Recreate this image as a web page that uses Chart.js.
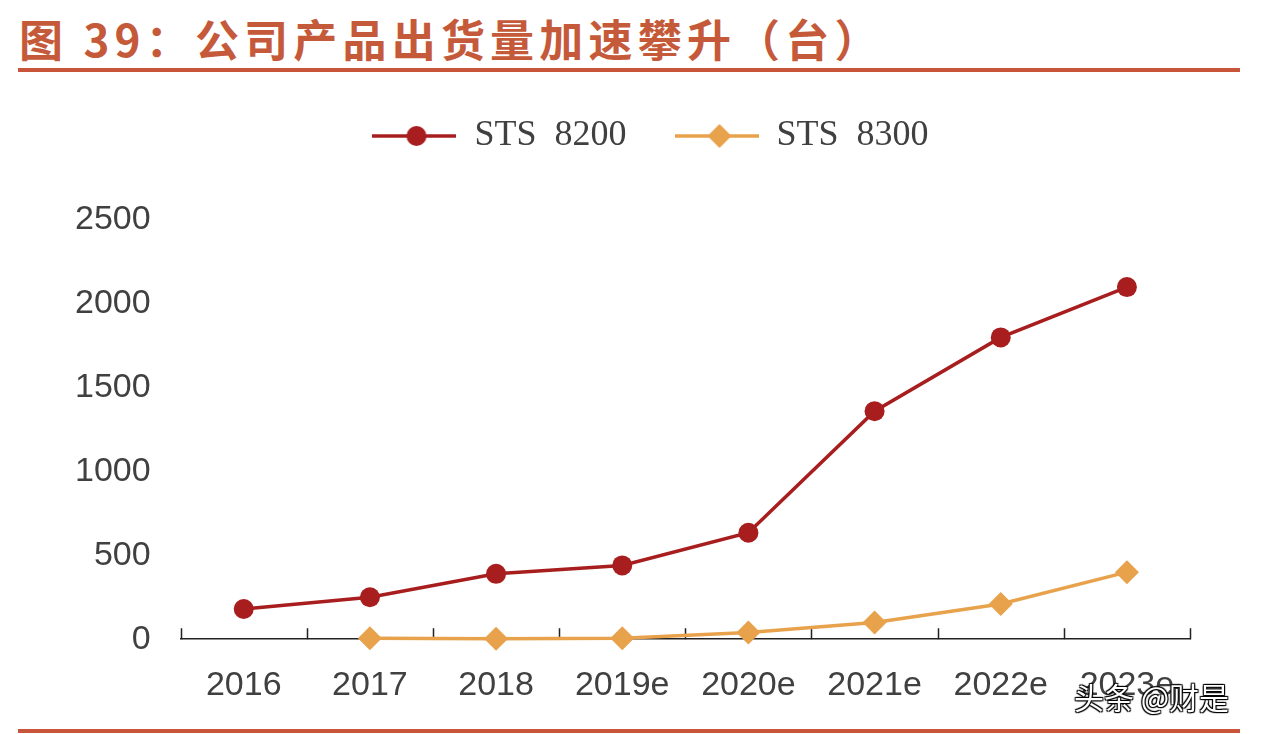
<!DOCTYPE html>
<html>
<head>
<meta charset="utf-8">
<script src="https://cdn.jsdelivr.net/npm/chart.js@4/dist/chart.umd.min.js"></script>
<style>
body{margin:0;background:#fff;width:1262px;height:734px;overflow:hidden;position:relative;}
#title{position:absolute;left:19px;top:6px;font-family:"Noto Sans CJK SC",sans-serif;font-weight:bold;font-size:44px;letter-spacing:5.2px;color:#C55A3A;white-space:nowrap;}
.rule{position:absolute;left:18px;width:1222px;height:4px;background:#C8553A;}
#wrap{position:absolute;left:0;top:0;width:1262px;height:734px;}
#wm{position:absolute;left:1074px;top:674px;font-family:"Noto Sans CJK SC",sans-serif;font-size:30px;color:#fff;
 text-shadow:0 0 1px #000,1px 1px 1px #000,-1px -1px 1px #000,1px -1px 1px #000,-1px 1px 1px #000;white-space:nowrap;}
</style>
</head>
<body>
<div id="title">图 39：公司产品出货量加速攀升（台）</div>
<div class="rule" style="top:68px"></div>
<div id="wrap"><canvas id="myChart" width="1262" height="734"></canvas></div>
<div class="rule" style="top:729px"></div>
<div id="wm">头条 @财是</div>
<script>
const years=["2016","2017","2018","2019e","2020e","2021e","2022e","2023e"];
const sts8200=[180,250,390,440,635,1360,1800,2100];
const sts8300=[null,5,2,5,40,100,210,400];
const yTicks=[0,500,1000,1500,2000,2500];

const red="#A81E1E";
const orange="#E8A24C";

// legend icon = short line with the marker in the middle
function legendIcon(color,style){
    var c=document.createElement("canvas");
    c.width=84;c.height=26;
    var g=c.getContext("2d");
    g.strokeStyle=color;g.lineWidth=3.5;
    g.beginPath();g.moveTo(0,13);g.lineTo(84,13);g.stroke();
    g.fillStyle=color;
    g.beginPath();
    if(style=="circle"){
        g.arc(44,13,10,0,Math.PI*2);
    }else{
        g.moveTo(45,1);g.lineTo(57,13);g.lineTo(45,25);g.lineTo(33,13);g.closePath();
    }
    g.fill();
    return c;
}

// tick marks on the x axis point up, between categories
const upTicks={
    id:"upTicks",
    beforeDatasetsDraw(chart){
        var x=chart.scales.x,ctx=chart.ctx;
        var n=years.length,step=(x.right-x.left)/n;
        ctx.save();
        ctx.strokeStyle="#222";ctx.lineWidth=1.5;
        ctx.beginPath();
        for(let i=0;i<=n;i++){
            var px=Math.round(x.left+i*step)+0.5;
            ctx.moveTo(px,x.top);ctx.lineTo(px,x.top-11);
        }
        ctx.stroke();
        ctx.restore();
    }
};

// extra space under the legend, legend a bit right of centre
const legendGap={
    id:"legendGap",
    beforeInit(chart){
        var fit=chart.legend.fit;
        chart.legend.fit=function(){fit.bind(chart.legend)();this.height+=56;};
    },
    afterLayout(chart){
        chart.legend.left+=33;
        chart.legend.right+=33;
    }
};

var ctx=document.getElementById("myChart").getContext("2d");
var myChart=new Chart(ctx,{
    type:"line",
    data:{
        labels:years,
        datasets:[
            {
                label:"STS  8200",
                data:sts8200,
                borderColor:red,
                backgroundColor:red,
                borderWidth:3.5,
                pointStyle:"circle",
                pointRadius:10,
                pointBorderWidth:0,
                clip:false,
            },
            {
                label:"STS  8300",
                data:sts8300,
                borderColor:orange,
                backgroundColor:orange,
                borderWidth:3.5,
                pointStyle:"rectRot",
                pointRadius:12,
                pointBorderWidth:0,
                clip:false,
            },
        ],
    },
    options:{
        responsive:false,
        animation:false,
        layout:{padding:{left:45,right:72,top:70,bottom:2}},
        plugins:{
            tooltip:{enabled:false},
            legend:{
                labels:{
                    usePointStyle:true,
                    pointStyleWidth:84,
                    padding:48,
                    color:"#404040",
                    font:{family:"Liberation Serif",size:36},
                    generateLabels:(chart)=>chart.data.datasets.map((d,i)=>({
                        text:d.label,
                        pointStyle:legendIcon(d.borderColor,i==0?"circle":"diamond"),
                        fillStyle:d.borderColor,
                        strokeStyle:d.borderColor,
                        lineWidth:0,
                        fontColor:"#404040",
                        datasetIndex:i,
                    })),
                },
            },
        },
        scales:{
            x:{
                offset:true,
                grid:{display:false,drawTicks:false},
                border:{display:true,color:"#222",width:1.5},
                ticks:{padding:26,color:"#404040",font:{family:"Liberation Sans",size:34}},
            },
            y:{
                min:0,max:2500,
                afterBuildTicks:(s)=>{s.ticks=yTicks.map(v=>({value:v}));},
                grid:{display:false,drawTicks:false},
                border:{display:false},
                ticks:{padding:30,color:"#404040",font:{family:"Liberation Sans",size:34},callback:(v)=>String(v)},
            },
        },
    },
    plugins:[upTicks,legendGap],
});
</script>
</body>
</html>
